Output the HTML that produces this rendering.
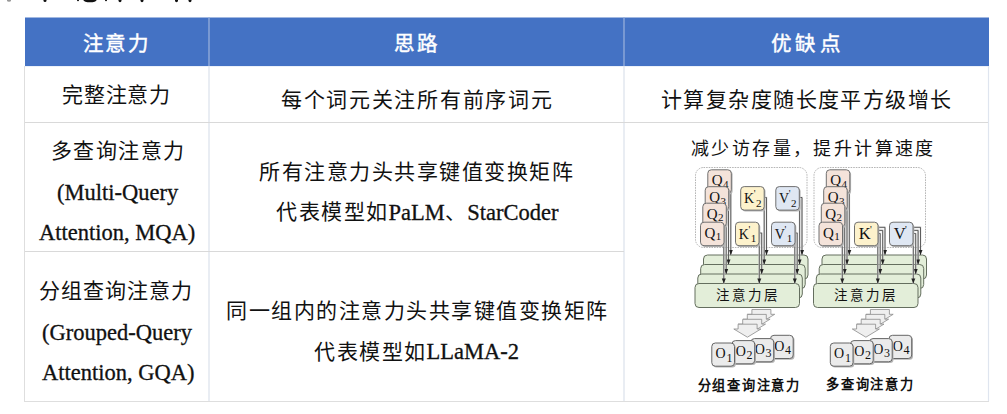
<!DOCTYPE html>
<html lang="zh-CN">
<head>
<meta charset="utf-8">
<style>
html,body{margin:0;padding:0;}
body{width:1007px;height:414px;position:relative;overflow:hidden;background:#fff;font-family:"Liberation Serif",serif;color:#111;}
.t{position:absolute;white-space:nowrap;line-height:1;}
.h{color:#fff;font-weight:normal;-webkit-text-stroke:0.45px #fff;font-size:20.5px;letter-spacing:2.5px;}
.c{font-size:21px;letter-spacing:1.5px;}
.e{font-size:22.5px;letter-spacing:0;-webkit-text-stroke:0.3px #111;}
svg{position:absolute;left:0;top:0;}
</style>
</head>
<body>
<svg width="1007" height="414" viewBox="0 0 1007 414">
  <g fill="#111">
    <ellipse cx="9" cy="0.5" rx="2" ry="1.2" fill="#999"/>
    <ellipse cx="45" cy="0.5" rx="1.5" ry="1.5"/>
    <ellipse cx="78" cy="0.3" rx="1" ry="1"/>
    <ellipse cx="90" cy="0.3" rx="6.5" ry="2"/>
    <ellipse cx="106" cy="0.3" rx="1" ry="1"/>
    <ellipse cx="120" cy="0.5" rx="1.5" ry="1.8"/>
    <ellipse cx="142" cy="0.5" rx="1.5" ry="1.8"/>
    <ellipse cx="176.5" cy="0.5" rx="1.5" ry="1.8"/>
    <ellipse cx="190" cy="0.5" rx="1.5" ry="1.8"/>
  </g>
  <rect x="25" y="17.5" width="964" height="48.6" fill="#4472c4"/>
  <line x1="24.5" y1="66" x2="24.5" y2="402" stroke="#dedede" stroke-width="1"/>
  <line x1="24" y1="401.5" x2="989" y2="401.5" stroke="#dedede" stroke-width="1"/>
  <line x1="988.5" y1="66" x2="988.5" y2="401" stroke="#dfe5ef" stroke-width="1.2"/>
  <line x1="209" y1="17.5" x2="209" y2="401" stroke="#dde3ed" stroke-width="1.3"/>
  <line x1="624" y1="17.5" x2="624" y2="401" stroke="#dde3ed" stroke-width="1.3"/>
  <line x1="209" y1="17.5" x2="209" y2="66" stroke="#4a77c7" stroke-width="1"/>
  <line x1="624" y1="17.5" x2="624" y2="66" stroke="#4a77c7" stroke-width="1"/>
  <line x1="25" y1="122.5" x2="988" y2="122.5" stroke="#d9d9d9" stroke-width="1.2"/>
  <line x1="25" y1="251.5" x2="624" y2="251.5" stroke="#d9d9d9" stroke-width="1.2"/>
<g font-family="Liberation Serif, serif" fill="#111"><rect x="695.5" y="167.5" width="111.5" height="80" rx="8" fill="none" stroke="#9c9c9c" stroke-width="0.75" stroke-dasharray="1.6,1"/><rect x="703.5" y="255" width="104.5" height="24" rx="4" fill="#e3eed9" stroke="#646e5e" stroke-width="1"/><rect x="700.7" y="264.5" width="104.5" height="24" rx="4" fill="#e3eed9" stroke="#646e5e" stroke-width="1"/><rect x="697.8" y="274" width="104.5" height="24" rx="4" fill="#e3eed9" stroke="#646e5e" stroke-width="1"/><rect x="695" y="283.5" width="104.5" height="24" rx="4" fill="#e3eed9" stroke="#646e5e" stroke-width="1"/><text x="747.5" y="300" font-size="13.5" text-anchor="middle" letter-spacing="3">注意力层</text><polyline points="730.8,179.8 730.8,255.0" fill="none" stroke="#d8d8d8" stroke-width="1.7"/><polyline points="730.8,179.8 730.8,255.0" fill="none" stroke="#474747" stroke-width="0.85"/><path d="M728.8,250.0 L732.8,250.0 L730.8,255.0Z" fill="#222"/><polyline points="728.5,196.7 728.5,264.5" fill="none" stroke="#d8d8d8" stroke-width="1.7"/><polyline points="728.5,196.7 728.5,264.5" fill="none" stroke="#474747" stroke-width="0.85"/><path d="M726.5,259.5 L730.5,259.5 L728.5,264.5Z" fill="#222"/><polyline points="726.2,213.2 726.2,274.0" fill="none" stroke="#d8d8d8" stroke-width="1.7"/><polyline points="726.2,213.2 726.2,274.0" fill="none" stroke="#474747" stroke-width="0.85"/><path d="M724.2,269.0 L728.2,269.0 L726.2,274.0Z" fill="#222"/><polyline points="723.8,232.2 723.8,283.5" fill="none" stroke="#d8d8d8" stroke-width="1.7"/><polyline points="723.8,232.2 723.8,283.5" fill="none" stroke="#474747" stroke-width="0.85"/><path d="M721.8,278.5 L725.8,278.5 L723.8,283.5Z" fill="#222"/><polyline points="761.5,197.5 766.5,197.5 766.5,255.0" fill="none" stroke="#d8d8d8" stroke-width="1.7"/><polyline points="761.5,197.5 766.5,197.5 766.5,255.0" fill="none" stroke="#474747" stroke-width="0.85"/><path d="M764.5,250.0 L768.5,250.0 L766.5,255.0Z" fill="#222"/><polyline points="797.0,197.5 802.0,197.5 802.0,255.0" fill="none" stroke="#d8d8d8" stroke-width="1.7"/><polyline points="797.0,197.5 802.0,197.5 802.0,255.0" fill="none" stroke="#474747" stroke-width="0.85"/><path d="M800.0,250.0 L804.0,250.0 L802.0,255.0Z" fill="#222"/><polyline points="759.2,200.0 764.2,200.0 764.2,264.5" fill="none" stroke="#d8d8d8" stroke-width="1.7"/><polyline points="759.2,200.0 764.2,200.0 764.2,264.5" fill="none" stroke="#474747" stroke-width="0.85"/><path d="M762.2,259.5 L766.2,259.5 L764.2,264.5Z" fill="#222"/><polyline points="794.6,200.0 799.6,200.0 799.6,264.5" fill="none" stroke="#d8d8d8" stroke-width="1.7"/><polyline points="794.6,200.0 799.6,200.0 799.6,264.5" fill="none" stroke="#474747" stroke-width="0.85"/><path d="M797.6,259.5 L801.6,259.5 L799.6,264.5Z" fill="#222"/><polyline points="756.7,233.0 761.7,233.0 761.7,274.0" fill="none" stroke="#d8d8d8" stroke-width="1.7"/><polyline points="756.7,233.0 761.7,233.0 761.7,274.0" fill="none" stroke="#474747" stroke-width="0.85"/><path d="M759.7,269.0 L763.7,269.0 L761.7,274.0Z" fill="#222"/><polyline points="792.2,233.0 797.2,233.0 797.2,274.0" fill="none" stroke="#d8d8d8" stroke-width="1.7"/><polyline points="792.2,233.0 797.2,233.0 797.2,274.0" fill="none" stroke="#474747" stroke-width="0.85"/><path d="M795.2,269.0 L799.2,269.0 L797.2,274.0Z" fill="#222"/><polyline points="754.3,235.5 759.3,235.5 759.3,283.5" fill="none" stroke="#d8d8d8" stroke-width="1.7"/><polyline points="754.3,235.5 759.3,235.5 759.3,283.5" fill="none" stroke="#474747" stroke-width="0.85"/><path d="M757.3,278.5 L761.3,278.5 L759.3,283.5Z" fill="#222"/><polyline points="789.8,235.5 794.8,235.5 794.8,283.5" fill="none" stroke="#d8d8d8" stroke-width="1.7"/><polyline points="789.8,235.5 794.8,235.5 794.8,283.5" fill="none" stroke="#474747" stroke-width="0.85"/><path d="M792.8,278.5 L796.8,278.5 L794.8,283.5Z" fill="#222"/><rect x="709.1" y="171.1" width="23.5" height="23.5" rx="3.5" fill="#b5b5b5"/><rect x="707.8" y="169.8" width="23.5" height="23.5" rx="3.5" fill="#f4e3da" stroke="#707070" stroke-width="1.0"/><text x="711.8" y="185.2" font-size="15">Q</text><text x="723.1" y="187.8" font-size="11">4</text><rect x="706.5" y="188.0" width="23.5" height="23.5" rx="3.5" fill="#b5b5b5"/><rect x="705.2" y="186.7" width="23.5" height="23.5" rx="3.5" fill="#f4e3da" stroke="#707070" stroke-width="1.0"/><text x="709.2" y="202.1" font-size="15">Q</text><text x="720.5" y="204.7" font-size="11">3</text><rect x="704.1" y="204.5" width="23.5" height="23.5" rx="3.5" fill="#b5b5b5"/><rect x="702.8" y="203.2" width="23.5" height="23.5" rx="3.5" fill="#f4e3da" stroke="#707070" stroke-width="1.0"/><text x="706.8" y="218.6" font-size="15">Q</text><text x="718.1" y="221.2" font-size="11">2</text><rect x="701.8" y="223.5" width="23.5" height="23.5" rx="3.5" fill="#b5b5b5"/><rect x="700.5" y="222.2" width="23.5" height="23.5" rx="3.5" fill="#f4e3da" stroke="#707070" stroke-width="1.0"/><text x="704.5" y="237.6" font-size="15">Q</text><text x="715.8" y="240.2" font-size="11">1</text><rect x="742.0" y="187.9" width="23.5" height="23.5" rx="3.5" fill="#b5b5b5"/><rect x="740.7" y="186.6" width="23.5" height="23.5" rx="3.5" fill="#fdf2cc" stroke="#707070" stroke-width="1.0"/><text x="744.0" y="203.0" font-size="14">K</text><text x="753.7" y="197.1" font-size="10">'</text><text x="756.0" y="206.5" font-size="11">2</text><rect x="736.8" y="223.5" width="23.5" height="23.5" rx="3.5" fill="#b5b5b5"/><rect x="735.5" y="222.2" width="23.5" height="23.5" rx="3.5" fill="#fdf2cc" stroke="#707070" stroke-width="1.0"/><text x="738.8" y="238.6" font-size="14">K</text><text x="748.5" y="232.7" font-size="10">'</text><text x="750.8" y="242.1" font-size="11">1</text><rect x="777.1" y="187.9" width="23.5" height="23.5" rx="3.5" fill="#b5b5b5"/><rect x="775.8" y="186.6" width="23.5" height="23.5" rx="3.5" fill="#dfe7f3" stroke="#707070" stroke-width="1.0"/><text x="779.1" y="203.0" font-size="14">V</text><text x="788.8" y="197.1" font-size="10">'</text><text x="791.1" y="206.5" font-size="11">2</text><rect x="772.8" y="223.5" width="23.5" height="23.5" rx="3.5" fill="#b5b5b5"/><rect x="771.5" y="222.2" width="23.5" height="23.5" rx="3.5" fill="#dfe7f3" stroke="#707070" stroke-width="1.0"/><text x="774.8" y="238.6" font-size="14">V</text><text x="784.5" y="232.7" font-size="10">'</text><text x="786.8" y="242.1" font-size="11">1</text><polygon points="751.9,309.5 770.9,309.5 770.9,314.3 774.7,314.3 761.2,322.5 747.6,314.3 751.9,314.3" fill="#efefef" stroke="#8a8a8a" stroke-width="0.8"/><polygon points="747.3,314.4 766.3,314.4 766.3,319.2 770.1,319.2 756.6,327.4 743.0,319.2 747.3,319.2" fill="#efefef" stroke="#8a8a8a" stroke-width="0.8"/><polygon points="742.7,319.3 761.7,319.3 761.7,324.1 765.5,324.1 752.0,332.3 738.4,324.1 742.7,324.1" fill="#efefef" stroke="#8a8a8a" stroke-width="0.8"/><polygon points="738.1,324.2 757.1,324.2 757.1,329.0 760.9,329.0 747.4,337.2 733.8,329.0 738.1,329.0" fill="#efefef" stroke="#8a8a8a" stroke-width="0.8"/><rect x="771.8" y="336.6" width="22.7" height="23.2" rx="3.5" fill="#b5b5b5"/><rect x="770.5" y="335.3" width="22.7" height="23.2" rx="3.5" fill="#ebebeb" stroke="#666" stroke-width="1.0"/><text x="774.2" y="350.7" font-size="14">O</text><text x="785.1" y="354.1" font-size="12">4</text><rect x="752.3" y="339.9" width="22.7" height="23.2" rx="3.5" fill="#b5b5b5"/><rect x="751.0" y="338.6" width="22.7" height="23.2" rx="3.5" fill="#ebebeb" stroke="#666" stroke-width="1.0"/><text x="754.7" y="354.0" font-size="14">O</text><text x="765.6" y="357.4" font-size="12">3</text><rect x="733.3" y="341.9" width="22.7" height="23.2" rx="3.5" fill="#b5b5b5"/><rect x="732.0" y="340.6" width="22.7" height="23.2" rx="3.5" fill="#ebebeb" stroke="#666" stroke-width="1.0"/><text x="735.7" y="356.0" font-size="14">O</text><text x="746.6" y="359.4" font-size="12">2</text><rect x="713.1" y="344.3" width="22.7" height="23.2" rx="3.5" fill="#b5b5b5"/><rect x="711.8" y="343.0" width="22.7" height="23.2" rx="3.5" fill="#ebebeb" stroke="#666" stroke-width="1.0"/><text x="715.5" y="358.4" font-size="14">O</text><text x="726.4" y="361.8" font-size="12">1</text><g transform="translate(118.5,0)"><rect x="695.5" y="167.5" width="111.5" height="80" rx="8" fill="none" stroke="#9c9c9c" stroke-width="0.75" stroke-dasharray="1.6,1"/><rect x="703.5" y="255" width="104.5" height="24" rx="4" fill="#e3eed9" stroke="#646e5e" stroke-width="1"/><rect x="700.7" y="264.5" width="104.5" height="24" rx="4" fill="#e3eed9" stroke="#646e5e" stroke-width="1"/><rect x="697.8" y="274" width="104.5" height="24" rx="4" fill="#e3eed9" stroke="#646e5e" stroke-width="1"/><rect x="695" y="283.5" width="104.5" height="24" rx="4" fill="#e3eed9" stroke="#646e5e" stroke-width="1"/><text x="747.5" y="300" font-size="13.5" text-anchor="middle" letter-spacing="3">注意力层</text><polyline points="730.8,179.8 730.8,255.0" fill="none" stroke="#d8d8d8" stroke-width="1.7"/><polyline points="730.8,179.8 730.8,255.0" fill="none" stroke="#474747" stroke-width="0.85"/><path d="M728.8,250.0 L732.8,250.0 L730.8,255.0Z" fill="#222"/><polyline points="728.5,196.7 728.5,264.5" fill="none" stroke="#d8d8d8" stroke-width="1.7"/><polyline points="728.5,196.7 728.5,264.5" fill="none" stroke="#474747" stroke-width="0.85"/><path d="M726.5,259.5 L730.5,259.5 L728.5,264.5Z" fill="#222"/><polyline points="726.2,213.2 726.2,274.0" fill="none" stroke="#d8d8d8" stroke-width="1.7"/><polyline points="726.2,213.2 726.2,274.0" fill="none" stroke="#474747" stroke-width="0.85"/><path d="M724.2,269.0 L728.2,269.0 L726.2,274.0Z" fill="#222"/><polyline points="723.8,232.2 723.8,283.5" fill="none" stroke="#d8d8d8" stroke-width="1.7"/><polyline points="723.8,232.2 723.8,283.5" fill="none" stroke="#474747" stroke-width="0.85"/><path d="M721.8,278.5 L725.8,278.5 L723.8,283.5Z" fill="#222"/><polyline points="758.5,227.3 766.5,227.3 766.5,255.0" fill="none" stroke="#d8d8d8" stroke-width="1.7"/><polyline points="758.5,227.3 766.5,227.3 766.5,255.0" fill="none" stroke="#474747" stroke-width="0.85"/><path d="M764.5,250.0 L768.5,250.0 L766.5,255.0Z" fill="#222"/><polyline points="794.0,227.3 802.0,227.3 802.0,255.0" fill="none" stroke="#d8d8d8" stroke-width="1.7"/><polyline points="794.0,227.3 802.0,227.3 802.0,255.0" fill="none" stroke="#474747" stroke-width="0.85"/><path d="M800.0,250.0 L804.0,250.0 L802.0,255.0Z" fill="#222"/><polyline points="756.2,230.4 764.2,230.4 764.2,264.5" fill="none" stroke="#d8d8d8" stroke-width="1.7"/><polyline points="756.2,230.4 764.2,230.4 764.2,264.5" fill="none" stroke="#474747" stroke-width="0.85"/><path d="M762.2,259.5 L766.2,259.5 L764.2,264.5Z" fill="#222"/><polyline points="791.6,230.4 799.6,230.4 799.6,264.5" fill="none" stroke="#d8d8d8" stroke-width="1.7"/><polyline points="791.6,230.4 799.6,230.4 799.6,264.5" fill="none" stroke="#474747" stroke-width="0.85"/><path d="M797.6,259.5 L801.6,259.5 L799.6,264.5Z" fill="#222"/><polyline points="753.7,233.5 761.7,233.5 761.7,274.0" fill="none" stroke="#d8d8d8" stroke-width="1.7"/><polyline points="753.7,233.5 761.7,233.5 761.7,274.0" fill="none" stroke="#474747" stroke-width="0.85"/><path d="M759.7,269.0 L763.7,269.0 L761.7,274.0Z" fill="#222"/><polyline points="789.2,233.5 797.2,233.5 797.2,274.0" fill="none" stroke="#d8d8d8" stroke-width="1.7"/><polyline points="789.2,233.5 797.2,233.5 797.2,274.0" fill="none" stroke="#474747" stroke-width="0.85"/><path d="M795.2,269.0 L799.2,269.0 L797.2,274.0Z" fill="#222"/><polyline points="751.3,236.5 759.3,236.5 759.3,283.5" fill="none" stroke="#d8d8d8" stroke-width="1.7"/><polyline points="751.3,236.5 759.3,236.5 759.3,283.5" fill="none" stroke="#474747" stroke-width="0.85"/><path d="M757.3,278.5 L761.3,278.5 L759.3,283.5Z" fill="#222"/><polyline points="786.8,236.5 794.8,236.5 794.8,283.5" fill="none" stroke="#d8d8d8" stroke-width="1.7"/><polyline points="786.8,236.5 794.8,236.5 794.8,283.5" fill="none" stroke="#474747" stroke-width="0.85"/><path d="M792.8,278.5 L796.8,278.5 L794.8,283.5Z" fill="#222"/><rect x="709.1" y="171.1" width="23.5" height="23.5" rx="3.5" fill="#b5b5b5"/><rect x="707.8" y="169.8" width="23.5" height="23.5" rx="3.5" fill="#f4e3da" stroke="#707070" stroke-width="1.0"/><text x="711.8" y="185.2" font-size="15">Q</text><text x="723.1" y="187.8" font-size="11">4</text><rect x="706.5" y="188.0" width="23.5" height="23.5" rx="3.5" fill="#b5b5b5"/><rect x="705.2" y="186.7" width="23.5" height="23.5" rx="3.5" fill="#f4e3da" stroke="#707070" stroke-width="1.0"/><text x="709.2" y="202.1" font-size="15">Q</text><text x="720.5" y="204.7" font-size="11">3</text><rect x="704.1" y="204.5" width="23.5" height="23.5" rx="3.5" fill="#b5b5b5"/><rect x="702.8" y="203.2" width="23.5" height="23.5" rx="3.5" fill="#f4e3da" stroke="#707070" stroke-width="1.0"/><text x="706.8" y="218.6" font-size="15">Q</text><text x="718.1" y="221.2" font-size="11">2</text><rect x="701.8" y="223.5" width="23.5" height="23.5" rx="3.5" fill="#b5b5b5"/><rect x="700.5" y="222.2" width="23.5" height="23.5" rx="3.5" fill="#f4e3da" stroke="#707070" stroke-width="1.0"/><text x="704.5" y="237.6" font-size="15">Q</text><text x="715.8" y="240.2" font-size="11">1</text><rect x="737.3" y="223.5" width="23.5" height="23.5" rx="3.5" fill="#b5b5b5"/><rect x="736.0" y="222.2" width="23.5" height="23.5" rx="3.5" fill="#fdf2cc" stroke="#707070" stroke-width="1.0"/><text x="740.3" y="239.2" font-size="16.5">K</text><text x="751.5" y="232.7" font-size="10">'</text><rect x="772.3" y="223.5" width="23.5" height="23.5" rx="3.5" fill="#b5b5b5"/><rect x="771.0" y="222.2" width="23.5" height="23.5" rx="3.5" fill="#dfe7f3" stroke="#707070" stroke-width="1.0"/><text x="775.3" y="239.2" font-size="16.5">V</text><text x="786.5" y="232.7" font-size="10">'</text><polygon points="751.9,309.5 770.9,309.5 770.9,314.3 774.7,314.3 761.2,322.5 747.6,314.3 751.9,314.3" fill="#efefef" stroke="#8a8a8a" stroke-width="0.8"/><polygon points="747.3,314.4 766.3,314.4 766.3,319.2 770.1,319.2 756.6,327.4 743.0,319.2 747.3,319.2" fill="#efefef" stroke="#8a8a8a" stroke-width="0.8"/><polygon points="742.7,319.3 761.7,319.3 761.7,324.1 765.5,324.1 752.0,332.3 738.4,324.1 742.7,324.1" fill="#efefef" stroke="#8a8a8a" stroke-width="0.8"/><polygon points="738.1,324.2 757.1,324.2 757.1,329.0 760.9,329.0 747.4,337.2 733.8,329.0 738.1,329.0" fill="#efefef" stroke="#8a8a8a" stroke-width="0.8"/><rect x="771.8" y="336.6" width="22.7" height="23.2" rx="3.5" fill="#b5b5b5"/><rect x="770.5" y="335.3" width="22.7" height="23.2" rx="3.5" fill="#ebebeb" stroke="#666" stroke-width="1.0"/><text x="774.2" y="350.7" font-size="14">O</text><text x="785.1" y="354.1" font-size="12">4</text><rect x="752.3" y="339.9" width="22.7" height="23.2" rx="3.5" fill="#b5b5b5"/><rect x="751.0" y="338.6" width="22.7" height="23.2" rx="3.5" fill="#ebebeb" stroke="#666" stroke-width="1.0"/><text x="754.7" y="354.0" font-size="14">O</text><text x="765.6" y="357.4" font-size="12">3</text><rect x="733.3" y="341.9" width="22.7" height="23.2" rx="3.5" fill="#b5b5b5"/><rect x="732.0" y="340.6" width="22.7" height="23.2" rx="3.5" fill="#ebebeb" stroke="#666" stroke-width="1.0"/><text x="735.7" y="356.0" font-size="14">O</text><text x="746.6" y="359.4" font-size="12">2</text><rect x="713.1" y="344.3" width="22.7" height="23.2" rx="3.5" fill="#b5b5b5"/><rect x="711.8" y="343.0" width="22.7" height="23.2" rx="3.5" fill="#ebebeb" stroke="#666" stroke-width="1.0"/><text x="715.5" y="358.4" font-size="14">O</text><text x="726.4" y="361.8" font-size="12">1</text></g><text x="691" y="155" font-size="18" letter-spacing="2.4">减少访存量，提升计算速度</text><text x="697.5" y="389.5" font-size="13.2" font-weight="bold" letter-spacing="1.75">分组查询注意力</text><text x="826" y="389" font-size="13.2" font-weight="bold" letter-spacing="1.75">多查询注意力</text></g>
</svg>

<div class="t h" style="left:82.5px;top:34.2px;letter-spacing:2.7px">注意力</div>
<div class="t h" style="left:393.5px;top:33.8px;letter-spacing:3.5px">思路</div>
<div class="t h" style="left:770.5px;top:34.2px;letter-spacing:4.5px">优缺点</div>

<div class="t c" style="left:62px;top:84.5px;letter-spacing:0.75px">完整注意力</div>
<div class="t c" style="left:281px;top:89.5px;letter-spacing:1.7px">每个词元关注所有前序词元</div>
<div class="t c" style="left:661px;top:89.5px;letter-spacing:1.42px">计算复杂度随长度平方级增长</div>

<div class="t c" style="left:50.5px;top:141px">多查询注意力</div>
<div class="t e" style="left:57px;top:182px">(Multi-Query</div>
<div class="t e" style="left:39px;top:222px">Attention, MQA)</div>

<div class="t c" style="left:259px;top:162px">所有注意力头共享键值变换矩阵</div>
<div class="t c" style="left:276px;top:201px">代表模型如<span class="e" style="position:relative;top:1px">PaLM</span>、<span class="e" style="position:relative;top:1px">StarCoder</span></div>

<div class="t c" style="left:38.5px;top:281px;letter-spacing:1px">分组查询注意力</div>
<div class="t e" style="left:42px;top:322px">(Grouped-Query</div>
<div class="t e" style="left:42px;top:362px">Attention, GQA)</div>

<div class="t c" style="left:226px;top:301px">同一组内的注意力头共享键值变换矩阵</div>
<div class="t c" style="left:314px;top:340.5px">代表模型如<span class="e">LLaMA-2</span></div>

</body>
</html>
